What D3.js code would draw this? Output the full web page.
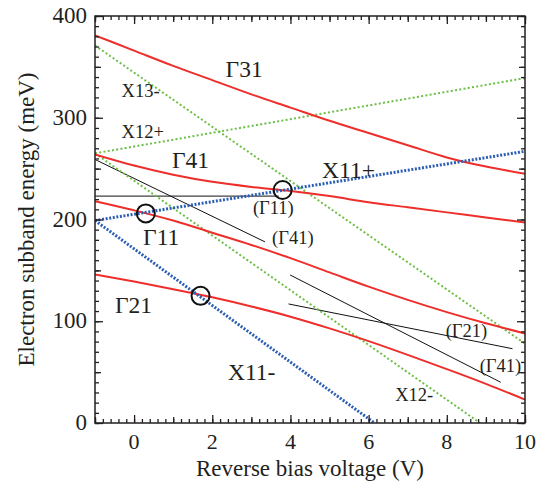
<!DOCTYPE html>
<html>
<head>
<meta charset="utf-8">
<script src="https://cdn.jsdelivr.net/npm/d3@7"></script>
<style>
  body { margin: 0; background: #fff; }
  text { font-family: "Liberation Serif", "Times New Roman", serif; fill: #231f20; }
</style>
</head>
<body>
<script>
//bias voltages where the Gamma subbands were read
var voltage = [-1, 0, 1, 2, 3, 4, 5, 6, 7, 8, 9, 10];

//Gamma subband energies (meV)
var gamma31 = [381, 366, 351, 337, 323, 310, 297, 285, 273, 261, 252, 245];
var gamma41 = [264, 253, 244, 237, 232, 228, 223, 217, 212, 207, 202, 197];
var gamma11 = [218, 209, 199, 187, 175, 162, 148, 134, 121, 109, 98, 88];
var gamma21 = [146, 139, 131.5, 123.5, 114.5, 104.5, 93, 80.5, 67, 53, 38.5, 23];

//X subbands, straight lines: [V, meV] end points
var x13minus = [[-1, 371], [10, 78]];
var x12plus = [[-1, 265], [10, 339]];
var x12minus = [[-1, 265], [8.85, 0]];
var x11plus = [[-1, 199], [10, 267]];
var x11minus = [[-1, 199], [6.15, 0]];

//uncoupled guides (thin black)
var guideG11 = [[-1, 223], [3.7, 223]];
var guideG41a = [[-1, 259], [3.35, 178]];
var guideG21 = [[3.95, 117], [9.68, 73]];
var guideG41b = [[3.99, 145.5], [9.38, 40]];

//crossing markers
var crossings = [[0.3, 206], [1.7, 125], [3.8, 229]];

//labels: text, V, meV (baseline), size
var labels = [
    ["Γ31", 2.34, 340, 23.5],
    ["X13-", -0.32, 320, 18.5],
    ["X12+", -0.32, 280, 18.5],
    ["Γ41", 0.97, 251, 23.5],
    ["X11+", 4.81, 241, 23.5],
    ["(Γ11)", 3.04, 205, 18.5],
    ["Γ11", 0.23, 175, 23.5],
    ["(Γ41)", 3.53, 176, 18.5],
    ["Γ21", -0.49, 108, 23.5],
    ["X11-", 2.4, 42, 23.5],
    ["(Γ21)", 7.97, 85, 18.5],
    ["(Γ41)", 8.84, 50, 18.5],
    ["X12-", 6.68, 22, 18.5]
];

var xMajor = [0, 2, 4, 6, 8, 10];
var yMajor = [0, 100, 200, 300, 400];

var width = 540,
    height = 482;

var svg = d3.select("body")
    .append("svg")
    .attr("width", width)
    .attr("height", height);

var x = d3.scaleLinear().domain([-1, 10]).range([95, 525]);
var y = d3.scaleLinear().domain([0, 400]).range([423, 16]);

var plot = svg.append("g");

//clip so lines stay in frame
svg.append("clipPath").attr("id", "frame")
    .append("rect")
    .attr("x", x(-1)).attr("y", y(400))
    .attr("width", x(10) - x(-1)).attr("height", y(0) - y(400));

var lines = plot.append("g").attr("clip-path", "url(#frame)");

var curve = d3.line()
    .x(function (d, i) { return x(voltage[i]); })
    .y(function (d) { return y(d); })
    .curve(d3.curveMonotoneX);

var seg = d3.line()
    .x(function (d) { return x(d[0]); })
    .y(function (d) { return y(d[1]); });

//black guides
[guideG11, guideG41a, guideG21, guideG41b].forEach(function (g) {
    lines.append("path").attr("d", seg(g))
        .attr("fill", "none").attr("stroke", "#111").attr("stroke-width", 1);
});

//green X lines
[x13minus, x12plus, x12minus].forEach(function (g) {
    lines.append("path").attr("d", seg(g))
        .attr("fill", "none").attr("stroke", "#6cbf45")
        .attr("stroke-width", 2).attr("stroke-dasharray", "2,2.3");
});

//red gamma curves
[gamma31, gamma41, gamma11, gamma21].forEach(function (g) {
    lines.append("path").attr("d", curve(g))
        .attr("fill", "none").attr("stroke", "#ee2e2a").attr("stroke-width", 2);
});

//blue X11 lines
[x11plus, x11minus].forEach(function (g) {
    lines.append("path").attr("d", seg(g))
        .attr("fill", "none").attr("stroke", "#2c5fb4")
        .attr("stroke-width", 3).attr("stroke-dasharray", "2,1.6");
});

plot.selectAll(".cross")
    .data(crossings)
    .enter().append("circle")
    .attr("cx", function (d) { return x(d[0]); })
    .attr("cy", function (d) { return y(d[1]); })
    .attr("r", 9)
    .attr("fill", "none").attr("stroke", "#111").attr("stroke-width", 2);

plot.selectAll(".lab")
    .data(labels)
    .enter().append("text")
    .attr("x", function (d) { return x(d[1]); })
    .attr("y", function (d) { return y(d[2]); })
    .style("font-size", function (d) { return d[3] + "px"; })
    .text(function (d) { return d[0]; });

//axes, ticks inward on all four sides
function ticks(axis, vals, len, g) {
    g.call(axis.tickValues(vals).tickSize(len).tickFormat(""));
}
var xMinor = d3.range(-1, 10.01, 0.2).map(function (v) { return +v.toFixed(1); });
var xOdd = [-1, 1, 3, 5, 7, 9];
var yMinor = d3.range(0, 401, 10);
var yMid = [50, 150, 250, 350];

var axes = svg.append("g");
var axBottom = axes.append("g").attr("transform", "translate(0," + y(0) + ")");
var axTop = axes.append("g").attr("transform", "translate(0," + y(400) + ")");
var axLeft = axes.append("g").attr("transform", "translate(" + x(-1) + ",0)");
var axRight = axes.append("g").attr("transform", "translate(" + x(10) + ",0)");

[[axBottom, d3.axisBottom], [axTop, d3.axisTop]].forEach(function (a) {
    ticks(a[1](x), xMinor, -4, a[0].append("g"));
    ticks(a[1](x), xOdd, -6, a[0].append("g"));
    ticks(a[1](x), xMajor, -8, a[0].append("g"));
});
[[axLeft, d3.axisLeft], [axRight, d3.axisRight]].forEach(function (a) {
    ticks(a[1](y), yMinor, -4, a[0].append("g"));
    ticks(a[1](y), yMid, -6, a[0].append("g"));
    ticks(a[1](y), yMajor, -8, a[0].append("g"));
});
axes.selectAll(".domain").remove();
axes.selectAll("line").attr("stroke", "#231f20").attr("stroke-width", 1.3);

axes.append("rect")
    .attr("x", x(-1)).attr("y", y(400))
    .attr("width", x(10) - x(-1)).attr("height", y(0) - y(400))
    .attr("fill", "none").attr("stroke", "#231f20").attr("stroke-width", 1.5);

//tick labels
axes.selectAll(".xl").data(xMajor).enter().append("text")
    .attr("x", function (d) { return x(d); })
    .attr("y", y(0) + 26)
    .attr("text-anchor", "middle")
    .style("font-size", "22px")
    .text(function (d) { return d; });

axes.selectAll(".yl").data(yMajor).enter().append("text")
    .attr("x", x(-1) - 8)
    .attr("y", function (d) { return y(d) + 7; })
    .attr("text-anchor", "end")
    .style("font-size", "23px")
    .text(function (d) { return d; });

svg.append("text")
    .attr("x", (x(-1) + x(10)) / 2)
    .attr("y", 476)
    .attr("text-anchor", "middle")
    .style("font-size", "23px")
    .text("Reverse bias voltage (V)");

svg.append("text")
    .attr("transform", "translate(34," + ((y(0) + y(400)) / 2) + ") rotate(-90)")
    .attr("text-anchor", "middle")
    .style("font-size", "23px")
    .text("Electron subband energy (meV)");
</script>
</body>
</html>
